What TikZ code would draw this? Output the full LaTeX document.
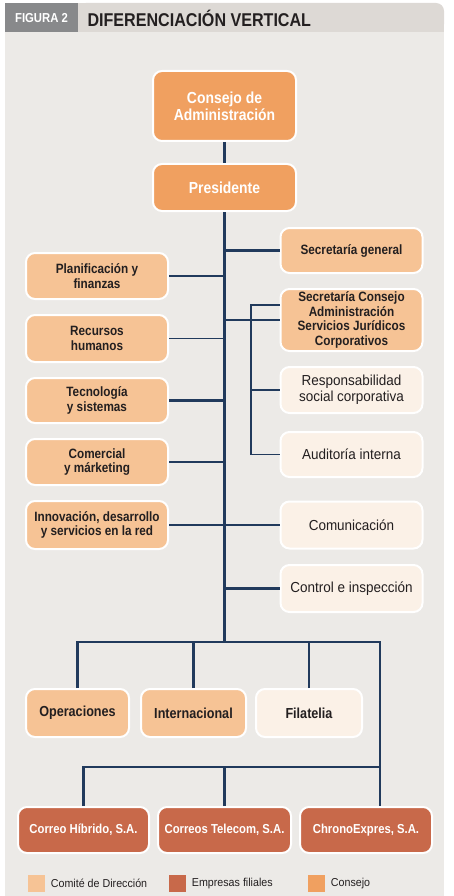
\documentclass[tikz,border=0pt]{standalone}
\usepackage{fontspec}
\setmainfont{Liberation Sans}[FakeStretch=0.93,BoldFeatures={FakeStretch=0.87}]
\usetikzlibrary{positioning}
\definecolor{consejoOrange}{HTML}{F0A060}
\definecolor{comiteOrange}{HTML}{F6C395}
\definecolor{plainCream}{HTML}{FBF1E7}
\definecolor{filialRust}{HTML}{C8694A}
\definecolor{panelGray}{HTML}{ECEAE7}
\definecolor{headerGray}{HTML}{DDD9D5}
\definecolor{figGray}{HTML}{88898B}
\definecolor{lineNavy}{HTML}{213A5C}
\definecolor{textDark}{HTML}{231F20}
\begin{document}
\begin{tikzpicture}[x=1pt, y=-1pt]
        \tikzset{
           orgBox/.style={
                        rectangle,
                        rounded corners=9pt,
                        draw=white,
                        line width=2pt,
                        align=center,
                        inner sep=2pt,
                        text=textDark
                       },
           consejoBox/.style={
                        orgBox,
                        fill=consejoOrange,
                        text=white,
                        minimum width=143pt,
                        font=\bfseries\fontsize{16}{17}\selectfont
                       },
           comiteBox/.style={
                        orgBox,
                        fill=comiteOrange,
                        minimum width=142pt,
                        font=\bfseries\fontsize{13.5}{14.5}\selectfont
                       },
           plainBox/.style={
                        orgBox,
                        fill=plainCream,
                        minimum width=142pt,
                        font=\fontsize{14.5}{16}\selectfont
                       },
           unitBox/.style={
                        minimum height=48pt,
                        font=\bfseries\fontsize{14.5}{15.5}\selectfont
                       },
           filialBox/.style={
                        orgBox,
                        fill=filialRust,
                        text=white,
                        minimum height=46pt,
                        font=\bfseries\fontsize{13}{14}\selectfont
                       },
           mainLine/.style={draw=lineNavy, line width=2.2pt},
           thinLine/.style={draw=lineNavy, line width=1.2pt},
           legendKey/.style={rectangle, minimum size=17pt, inner sep=0pt},
           legendText/.style={text=textDark, inner sep=0pt, font=\fontsize{11.5}{12}\selectfont},
                 };
    %--------------------
        \useasboundingbox (0,0) rectangle (454,896);
        \fill[panelGray] (5,32) rectangle (444,896);
        \fill[headerGray, rounded corners=8pt] (78,3) rectangle (444,32);
        \fill[headerGray] (78,3) rectangle (420,32);
        \fill[headerGray] (78,18) rectangle (444,32);
        \fill[figGray] (5,3) rectangle (78,32);
        \node[text=white, font=\bfseries\fontsize{13}{14}\selectfont] (figLabel) at (41.5,18) {FIGURA 2};
        \node[anchor=west, text=textDark, font=\bfseries\fontsize{18.5}{20}\selectfont] (figTitle) at (84,18) {DIFERENCIACIÓN VERTICAL};
    %--------------------
        \node[consejoBox, minimum height=70pt] (consejo)      at (224.5,106)   {Consejo de\\Administración};
        \node[consejoBox, minimum height=47pt] (presidente)   at (224.5,187.5) {Presidente};

        \node[comiteBox, minimum height=45pt]  (secGeneral)   at (351.5,250.5) {Secretaría general};
        \node[comiteBox, minimum height=62pt]  (secConsejo)   at (351.5,320)   {Secretaría Consejo\\Administración\\Servicios Jurídicos\\Corporativos};
        \node[plainBox, minimum height=46pt]   (responsab)    at (351.5,390)   {Responsabilidad\\social corporativa};
        \node[plainBox, minimum height=45pt]   (auditoria)    at (351.5,454.5) {Auditoría interna};
        \node[plainBox, minimum height=47pt]   (comunicacion) at (351.5,525)   {Comunicación};
        \node[plainBox, minimum height=47pt]   (control)      at (351.5,588.5) {Control e inspección};

        \node[comiteBox, minimum height=46pt]  (planif)       at (97,276)      {Planificación y\\finanzas};
        \node[comiteBox, minimum height=47pt]  (recursos)     at (97,338.5)    {Recursos\\humanos};
        \node[comiteBox, minimum height=45pt]  (tecnologia)   at (97,400.5)    {Tecnología\\y sistemas};
        \node[comiteBox, minimum height=46pt]  (comercial)    at (97,462)      {Comercial\\y márketing};
        \node[comiteBox, minimum height=48pt]  (innovacion)   at (97,525)      {Innovación, desarrollo\\y servicios en la red};

        \node[comiteBox, unitBox, minimum width=103pt] (operaciones)   at (77.5,713)  {Operaciones};
        \node[comiteBox, unitBox, minimum width=105pt] (internacional) at (193.5,713) {Internacional};
        \node[plainBox, unitBox, minimum width=106pt]  (filatelia)     at (309,713)   {Filatelia};

        \node[filialBox, minimum width=131pt]  (hibrido)      at (83.5,830)    {Correo Híbrido, S.A.};
        \node[filialBox, minimum width=133pt]  (telecom)      at (224.5,830)   {Correos Telecom, S.A.};
        \node[filialBox, minimum width=132pt]  (chrono)       at (366,830)     {ChronoExpres, S.A.};

        \node[legendKey, fill=comiteOrange]    (keyComite)    at (36,883.5)    {};
        \node[legendText, right=6pt of keyComite]  (txtComite)  {Comité de Dirección};
        \node[legendKey, fill=filialRust]      (keyFilial)    at (177,883.5)   {};
        \node[legendText, right=6pt of keyFilial]  (txtFilial)  {Empresas filiales};
        \node[legendKey, fill=consejoOrange]   (keyConsejo)   at (316,883.5)   {};
        \node[legendText, right=6pt of keyConsejo] (txtConsejo) {Consejo};
    %--------------------
        \coordinate (trunkEnd)  at (224.5,642);
        \coordinate (rightTop)  at (380,642);
        \coordinate (filialBar) at (380,767);
        \coordinate (subTop)    at (251,305);

        \draw[mainLine] (consejo.south) -- (presidente.north);
        \draw[mainLine] (presidente.south) -- (trunkEnd);

        \draw[mainLine] (secGeneral.west) -- (secGeneral.west -| presidente);
        \draw[thinLine] (secConsejo.west) -- (secConsejo.west -| presidente);
        \draw[thinLine] (secConsejo.west |- subTop) -- (subTop) |- (auditoria.west);
        \draw[thinLine] (responsab.west) -- (responsab.west -| subTop);
        \draw[mainLine] (control.west) -- (control.west -| presidente);

        \draw[thinLine] (planif.east) -- (planif.east -| presidente);
        \draw[thinLine] (recursos.east) -- (recursos.east -| presidente);
        \draw[mainLine] (tecnologia.east) -- (tecnologia.east -| presidente);
        \draw[mainLine] (comercial.east) -- (comercial.east -| presidente);
        \draw[mainLine] (innovacion.east) -- (comunicacion.west);

        \draw[mainLine] (operaciones.north) |- (rightTop) -- (rightTop |- chrono.north);
        \draw[mainLine] (internacional.north) -- (internacional.north |- trunkEnd);
        \draw[mainLine] (filatelia.north) -- (filatelia.north |- trunkEnd);

        \draw[mainLine] (hibrido.north) |- (filialBar);
        \draw[mainLine] (telecom.north) -- (telecom.north |- filialBar);
\end{tikzpicture}
\end{document}
